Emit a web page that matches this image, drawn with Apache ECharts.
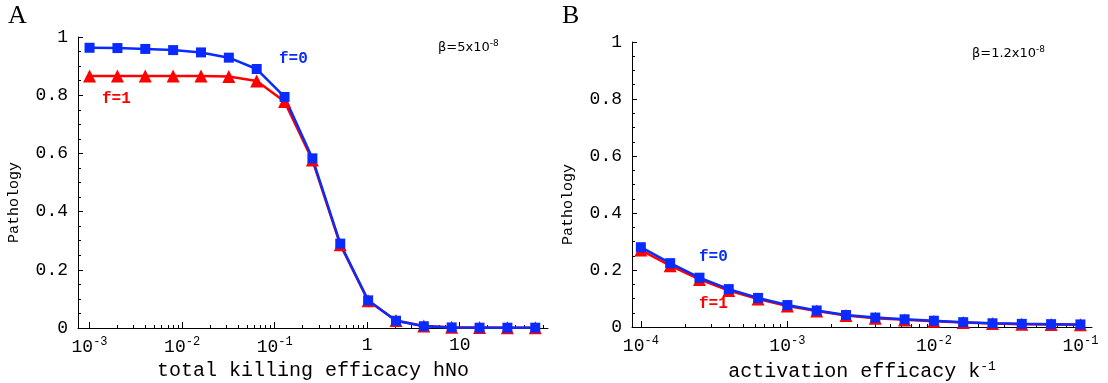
<!DOCTYPE html>
<html>
<head>
<meta charset="utf-8">
<script src="https://cdn.jsdelivr.net/npm/echarts@6/dist/echarts.min.js"></script>
<style>
  html, body { margin: 0; padding: 0; background: #fff; }
  #chart { width: 1108px; height: 383px; }
</style>
</head>
<body>
<div id="chart"></div>
<script>
// panel A: total killing efficacy hNo
const hNo = [0.001, 0.002, 0.004, 0.008, 0.016, 0.032, 0.064, 0.128, 0.256, 0.512, 1.024, 2.048, 4.096, 8.192, 16.384, 32.768, 65.536];
const pathA_f0 = [0.963, 0.962, 0.959, 0.955, 0.947, 0.929, 0.890, 0.794, 0.583, 0.290, 0.095, 0.025, 0.006, 0.002, 0.001, 0.001, 0.001];
const pathA_f1 = [0.866, 0.866, 0.866, 0.866, 0.866, 0.864, 0.849, 0.778, 0.577, 0.286, 0.094, 0.026, 0.007, 0.003, 0.002, 0.001, 0.001];

// panel B: activation efficacy k^-1
const kInv = [0.0001, 0.0001585, 0.0002512, 0.0003981, 0.000631, 0.001, 0.001585, 0.002512, 0.003981, 0.00631, 0.01, 0.01585, 0.02512, 0.03981, 0.0631, 0.1];
const pathB_f0 = [0.280, 0.224, 0.173, 0.133, 0.102, 0.077, 0.058, 0.042, 0.033, 0.027, 0.022, 0.017, 0.013, 0.011, 0.010, 0.009];
const pathB_f1 = [0.270, 0.215, 0.167, 0.128, 0.098, 0.074, 0.056, 0.040, 0.031, 0.025, 0.020, 0.016, 0.012, 0.010, 0.009, 0.008];

// tick positions
const decadesA = [0.001, 0.01, 0.1, 1, 10];
const decadesB = [0.0001, 0.001, 0.01, 0.1];
const minorA = [];
decadesA.forEach(d => { for (let m = 2; m <= 9; m++) if (d * m < 90) minorA.push(+(d * m).toPrecision(3)); });
const minorB = [];
decadesB.forEach(d => { for (let m = 2; m <= 9; m++) if (d * m < 0.12) minorB.push(+(d * m).toPrecision(3)); });

const BLUE = '#0a2bff';
const RED = '#ff0000';
const MONO = 'Liberation Mono';

const myChart = echarts.init(document.getElementById('chart'));

const powLabel = v => {
  const e = Math.round(Math.log10(v));
  if (e === 0) return '{b|1}';
  if (e === 1) return '{b|10}';
  return '{b|10}{s|' + e + '}';
};
const labelRich = {
  b: { fontFamily: MONO, fontSize: 18, color: '#000' },
  s: { fontFamily: MONO, fontSize: 12, color: '#000', padding: [0, 0, 10, 0] }
};

const mainX = (gi, min, max, ticks, name) => ({
  type: 'log', gridIndex: gi, min: min, max: max, position: 'bottom',
  axisLine: { lineStyle: { color: '#000', width: 1 } },
  axisTick: { inside: true, length: 6, customValues: ticks, lineStyle: { color: '#000' } },
  axisLabel: { customValues: ticks, formatter: powLabel, rich: labelRich, margin: 8 },
  splitLine: { show: false },
  name: name, nameLocation: 'middle', nameGap: 32,
  nameTextStyle: {
    fontFamily: MONO, fontSize: 20, color: '#000',
    rich: {
      t: { fontFamily: MONO, fontSize: 20, color: '#000' },
      s: { fontFamily: MONO, fontSize: 13, color: '#000', padding: [0, 0, 10, 0] }
    }
  }
});
const minorX = (gi, min, max, ticks) => ({
  type: 'log', gridIndex: gi, min: min, max: max, position: 'bottom',
  axisLine: { show: false },
  axisTick: { inside: true, length: 3, customValues: ticks, lineStyle: { color: '#000' } },
  axisLabel: { show: false },
  splitLine: { show: false }
});
const yAx = gi => ({
  type: 'value', gridIndex: gi, min: 0, max: 1, interval: 0.2,
  axisLine: { show: true, lineStyle: { color: '#000', width: 1 } },
  axisTick: { show: true, inside: true, length: 5, lineStyle: { color: '#000' } },
  minorTick: { show: true, splitNumber: 4, length: 3, lineStyle: { color: '#000' } },
  axisLabel: { fontFamily: MONO, fontSize: 18, color: '#000', margin: 10, formatter: v => String(+v.toFixed(1)) },
  splitLine: { show: false },
  name: 'Pathology', nameLocation: 'middle', nameGap: 56, nameRotate: 90,
  nameTextStyle: { fontFamily: MONO, fontSize: 15, color: '#000', padding: [0, 40, 0, 0] }
});

const lineSeries = (xi, yi, xs, ys, color, symbol, size) => ({
  type: 'line', xAxisIndex: xi, yAxisIndex: yi,
  data: xs.map((x, i) => [x, ys[i]]),
  symbol: symbol, symbolSize: size,
  lineStyle: { color: color, width: 2.5 },
  itemStyle: { color: color },
  emphasis: { disabled: true }
});

const betaRich = {
  g: { fontFamily: 'DejaVu Sans', fontSize: 13, fill: '#000' },
  s: { fontFamily: 'DejaVu Sans', fontSize: 9, fill: '#000', padding: [0, 0, 8, 0] }
};

const option = {
  animation: false,
  backgroundColor: '#fff',
  grid: [
    { left: 78, right: 560, top: 37, bottom: 55, outerBoundsMode: 'none' },
    { left: 632, right: 16, top: 42, bottom: 56, outerBoundsMode: 'none' }
  ],
  xAxis: [
    mainX(0, 0.00075, 90, decadesA, 'total killing efficacy hNo'),
    mainX(1, 0.000087, 0.12, decadesB, '{t|activation efficacy k}{s|-1}'),
    minorX(0, 0.00075, 90, minorA),
    minorX(1, 0.000087, 0.12, minorB)
  ],
  yAxis: [yAx(0), yAx(1)],
  series: [
    lineSeries(0, 0, hNo, pathA_f1, RED, 'triangle', 13),
    lineSeries(0, 0, hNo, pathA_f0, BLUE, 'rect', 10),
    lineSeries(1, 1, kInv, pathB_f1, RED, 'triangle', 13),
    lineSeries(1, 1, kInv, pathB_f0, BLUE, 'rect', 10)
  ],
  graphic: [
    { type: 'text', left: 8, top: 3, style: { text: 'A', font: '26px "Liberation Serif"', fill: '#000' } },
    { type: 'text', left: 562, top: 3, style: { text: 'B', font: '26px "Liberation Serif"', fill: '#000' } },
    { type: 'text', left: 438, top: 39, style: { text: '{g|β=5x10}{s|-8}', rich: betaRich } },
    { type: 'text', left: 972, top: 45, style: { text: '{g|β=1.2x10}{s|-8}', rich: betaRich } },
    { type: 'text', left: 279, top: 51, style: { text: 'f=0', font: 'bold 16px "Liberation Mono"', fill: BLUE } },
    { type: 'text', left: 102, top: 91, style: { text: 'f=1', font: 'bold 16px "Liberation Mono"', fill: RED } },
    { type: 'text', left: 699, top: 249, style: { text: 'f=0', font: 'bold 16px "Liberation Mono"', fill: BLUE } },
    { type: 'text', left: 699, top: 296, style: { text: 'f=1', font: 'bold 16px "Liberation Mono"', fill: RED } }
  ]
};
option && myChart.setOption(option);
</script>
</body>
</html>
